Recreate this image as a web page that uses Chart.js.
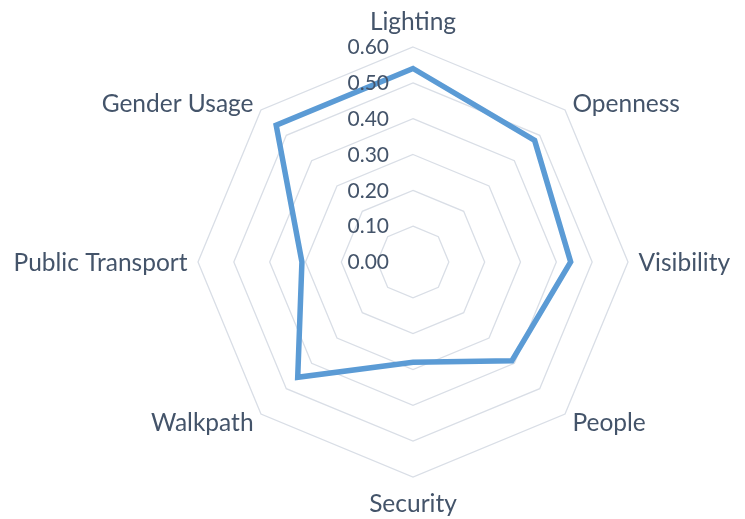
<!DOCTYPE html>
<html><head><meta charset="utf-8">
<script src="https://cdn.jsdelivr.net/npm/chart.js@4"></script>
<style>html,body{margin:0;padding:0;background:#fff}#wrap{width:745px;height:519px}</style>
</head><body><div id="wrap"><canvas id="c" width="745" height="519"></canvas></div>
<script>
const categories = ['Lighting', 'Openness', 'Visibility', 'People', 'Security', 'Walkpath', 'Public Transport', 'Gender Usage'];
const scores = [0.54, 0.48, 0.44, 0.39, 0.28, 0.455, 0.31, 0.54];
const tickValues = [0, 0.1, 0.2, 0.3, 0.4, 0.5, 0.6];
const tickLabels = ['0.00', '0.10', '0.20', '0.30', '0.40', '0.50', '0.60'];

const TEXT = '#44546A';
const labelFont = '24.5px Lato';
const tickFont = '21px Lato';

const textPlugin = {
  id: 'radarText',
  afterDraw(chart) {
    const s = chart.scales.r;
    const ctx = chart.ctx;
    ctx.save();
    ctx.fillStyle = TEXT;
    ctx.font = tickFont;
    ctx.textAlign = 'right';
    ctx.textBaseline = 'middle';
    tickValues.forEach((v, i) => {
      const r = s.getDistanceFromCenterForValue(v);
      ctx.fillText(tickLabels[i], s.xCenter - 24, s.yCenter - r + 0.5);
    });
    ctx.font = labelFont;
    const n = categories.length;
    categories.forEach((lab, i) => {
      const vertical = (i === 0 || i === n / 2);
      const p = s.getPointPosition(i, s.drawingArea + (vertical ? 26 : 10.5));
      let align = 'center';
      if (!vertical) align = i < n / 2 ? 'left' : 'right';
      ctx.textAlign = align;
      ctx.textBaseline = 'middle';
      ctx.fillText(lab, p.x, p.y + 1.5);
    });
    ctx.restore();
  }
};

new Chart(document.getElementById('c'), {
  type: 'radar',
  data: {
    labels: categories,
    datasets: [{
      data: scores,
      borderColor: '#5B9BD5',
      backgroundColor: 'rgba(0,0,0,0)',
      borderWidth: 5.5,
      borderJoinStyle: 'miter',
      pointRadius: 0,
      pointHoverRadius: 0,
      fill: false
    }]
  },
  options: {
    responsive: false,
    animation: false,
    layout: { padding: { left: 198, right: 117, top: 47, bottom: 42 } },
    plugins: { legend: { display: false }, tooltip: { enabled: false } },
    scales: {
      r: {
        min: 0,
        max: 0.6,
        ticks: { display: false, stepSize: 0.1 },
        pointLabels: { display: false },
        angleLines: { display: false },
        grid: { color: '#D9DEE6', lineWidth: 1.3 }
      }
    }
  },
  plugins: [textPlugin]
});
</script>
</body></html>
